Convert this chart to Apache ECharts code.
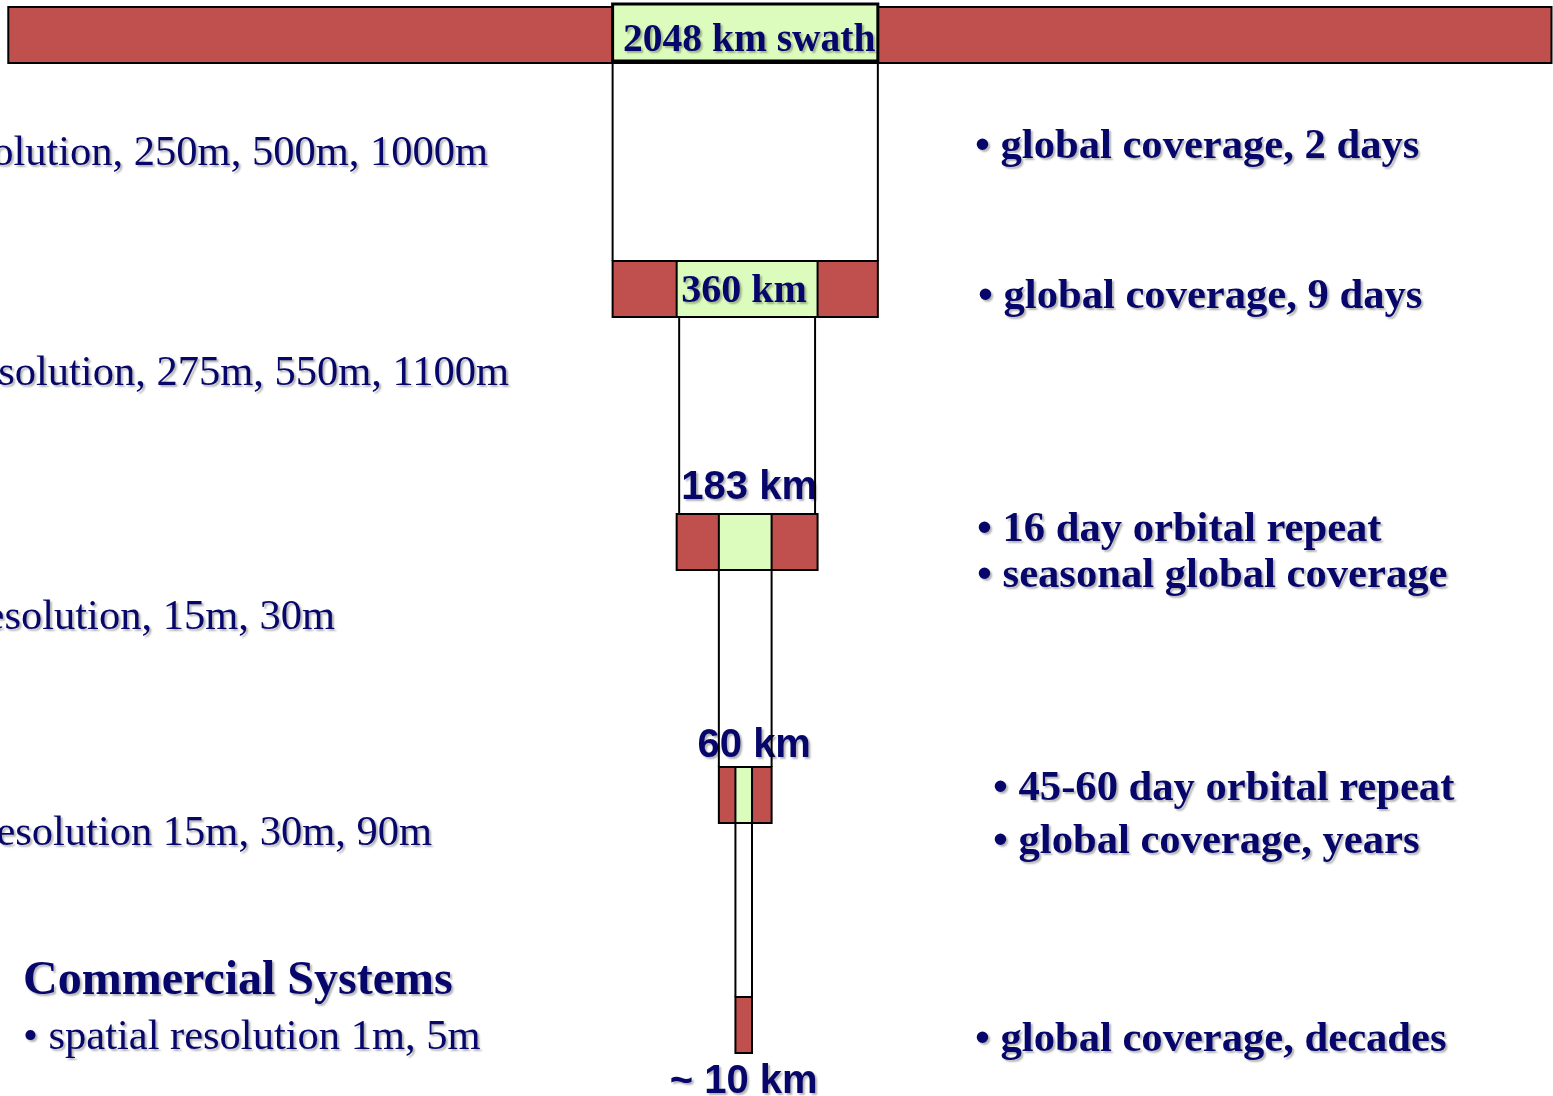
<!DOCTYPE html>
<html>
<head>
<meta charset="utf-8">
<script src="https://cdn.jsdelivr.net/npm/echarts@6/dist/echarts.min.js"></script>
<style>
html,body{margin:0;padding:0;background:#ffffff;overflow:hidden}
#chart{width:1553px;height:1096px}
</style>
</head>
<body>
<div id="chart"></div>
<script>
// ---------------- data ----------------
const swathKm = [2048, 360, 183, 60, 10];
const swathLabels = ['2048 km swath', '360 km', '183 km', '60 km', '~ 10 km'];
// schematic swath extent as drawn (km left / right of nadir)
const drawnLeftKm = [-978, -176, -91, -35, -13];
const drawnRightKm = [1070, 176, 96, 35, 9];
const leftNotes = ['olution, 250m, 500m, 1000m', 'solution, 275m, 550m, 1100m', 'esolution, 15m, 30m', 'esolution 15m, 30m, 90m'];
const commercialTitle = 'Commercial Systems';
const commercialNote = '\u2022 spatial resolution 1m, 5m';
const rightNotes = [
  ['\u2022 global coverage, 2 days'],
  ['\u2022 global coverage, 9 days'],
  ['\u2022 16 day orbital repeat', '\u2022 seasonal global coverage'],
  ['\u2022 45-60 day orbital repeat', '\u2022 global coverage, years'],
  ['\u2022 global coverage, decades']
];

// ---------------- layout / style ----------------
const ROW_TOP = [7, 261, 514, 767, 997];
const ROW_H = 56;
const NAVY = '#07076b';
const RED = '#c0504d';
const GREEN = '#dcfcbe';
const SERIF = '"Liberation Serif", "Times New Roman", serif';
const SANS = '"Liberation Sans", Arial, sans-serif';
const SH = { textShadowColor: 'rgba(0,0,0,0.3)', textShadowBlur: 2, textShadowOffsetX: 2, textShadowOffsetY: 2 };
const labelY = [41, 292, 488, 746, 1082];
const labelDx = [4, -3, 2, 9, 0];
const labelFont = [
  'bold 39.5px ' + SERIF, 'bold 40px ' + SERIF,
  'bold 40px ' + SANS, 'bold 40px ' + SANS, 'bold 40px ' + SANS
];
const connectorInset = [0, 2.5, 0, 0];

const levels = swathKm.map((v, i) => [drawnLeftKm[i], drawnRightKm[i], i, v]);

const chart = echarts.init(document.getElementById('chart'), null, { renderer: 'canvas' });

function barItem(params, api) {
  const i = api.value(2);
  const p0 = api.coord([api.value(0), ROW_TOP[i]]);
  const p1 = api.coord([api.value(1), ROW_TOP[i] + ROW_H]);
  const children = [{
    type: 'rect',
    shape: { x: p0[0], y: p0[1], width: p1[0] - p0[0], height: p1[1] - p0[1] },
    style: { fill: RED, stroke: '#000', lineWidth: 2 }
  }];
  if (i < swathKm.length - 1) {
    const top = i === 0 ? ROW_TOP[i] - 3 : ROW_TOP[i];
    const bot = i === 0 ? ROW_TOP[i] + ROW_H - 2 : ROW_TOP[i] + ROW_H;
    const g0 = api.coord([drawnLeftKm[i + 1], top]);
    const g1 = api.coord([drawnRightKm[i + 1], bot]);
    children.push({
      type: 'rect',
      shape: { x: g0[0], y: g0[1], width: g1[0] - g0[0], height: g1[1] - g0[1] },
      style: { fill: GREEN, stroke: '#000', lineWidth: i === 0 ? 3 : 2 }
    });
  }
  return { type: 'group', children };
}

function connectorItem(params, api) {
  const i = api.value(2);
  if (i >= swathKm.length - 1) return null;
  const yA = ROW_TOP[i] + ROW_H, yB = ROW_TOP[i + 1];
  const a0 = api.coord([drawnLeftKm[i + 1], yA]);
  const a1 = api.coord([drawnLeftKm[i + 1], yB]);
  const b0 = api.coord([drawnRightKm[i + 1], yA]);
  const b1 = api.coord([drawnRightKm[i + 1], yB]);
  const d = connectorInset[i];
  const st = { stroke: '#000', lineWidth: 2 };
  return { type: 'group', children: [
    { type: 'line', shape: { x1: a0[0] + d, y1: a0[1], x2: a1[0] + d, y2: a1[1] }, style: st },
    { type: 'line', shape: { x1: b0[0] - d, y1: b0[1], x2: b1[0] - d, y2: b1[1] }, style: st }
  ]};
}

function labelItem(params, api) {
  const i = api.value(2);
  let cL = api.value(0), cR = api.value(1);
  if (i < 2) { cL = drawnLeftKm[i + 1]; cR = drawnRightKm[i + 1]; }
  const c = api.coord([(cL + cR) / 2, labelY[i]]);
  return {
    type: 'text',
    style: Object.assign({
      text: swathLabels[i], x: c[0] + labelDx[i], y: c[1],
      font: labelFont[i], fill: NAVY, align: 'center', verticalAlign: 'middle'
    }, SH)
  };
}

const graphics = [];
const leftEndX = [488, 509, 335, 432];
const leftY = [154, 374, 618, 834];
leftNotes.forEach((t, k) => graphics.push({
  type: 'text', z: 10,
  style: Object.assign({ text: t, x: leftEndX[k], y: leftY[k], font: '42.5px ' + SERIF, fill: NAVY, textAlign: 'right', textVerticalAlign: 'middle' }, SH)
}));
graphics.push({
  type: 'text', z: 10,
  style: Object.assign({ text: commercialTitle, x: 23, y: 982, font: 'bold 48px ' + SERIF, fill: NAVY, textAlign: 'left', textVerticalAlign: 'middle' }, SH)
});
graphics.push({
  type: 'text', z: 10,
  style: Object.assign({ text: commercialNote, x: 23, y: 1038, font: '42.5px ' + SERIF, fill: NAVY, textAlign: 'left', textVerticalAlign: 'middle' }, SH)
});
const rightX = [[975], [978], [977, 977], [993, 993], [975]];
const rightY = [[147], [297], [530, 576], [789, 842], [1040]];
rightNotes.forEach((lines, k) => lines.forEach((t, j) => graphics.push({
  type: 'text', z: 10,
  style: Object.assign({ text: t, x: rightX[k][j], y: rightY[k][j], font: 'bold 42.6px ' + SERIF, fill: NAVY, textAlign: 'left', textVerticalAlign: 'middle' }, SH)
})));

chart.setOption({
  animation: false,
  backgroundColor: '#ffffff',
  grid: { left: 0, right: 0, top: 0, bottom: 0 },
  xAxis: { type: 'value', min: -989, max: 1072, show: false },
  yAxis: { type: 'value', min: 0, max: 1096, inverse: true, show: false },
  graphic: graphics,
  series: [
    { type: 'custom', name: 'labels', z: 1, data: levels, renderItem: labelItem, silent: true },
    { type: 'custom', name: 'connectors', z: 2, data: levels, renderItem: connectorItem, silent: true },
    { type: 'custom', name: 'swaths', z: 3, data: levels, renderItem: barItem, silent: true },
    { type: 'custom', name: 'innerLabels', z: 4, data: levels.slice(0, 2), renderItem: labelItem, silent: true }
  ]
});
</script>
</body>
</html>
